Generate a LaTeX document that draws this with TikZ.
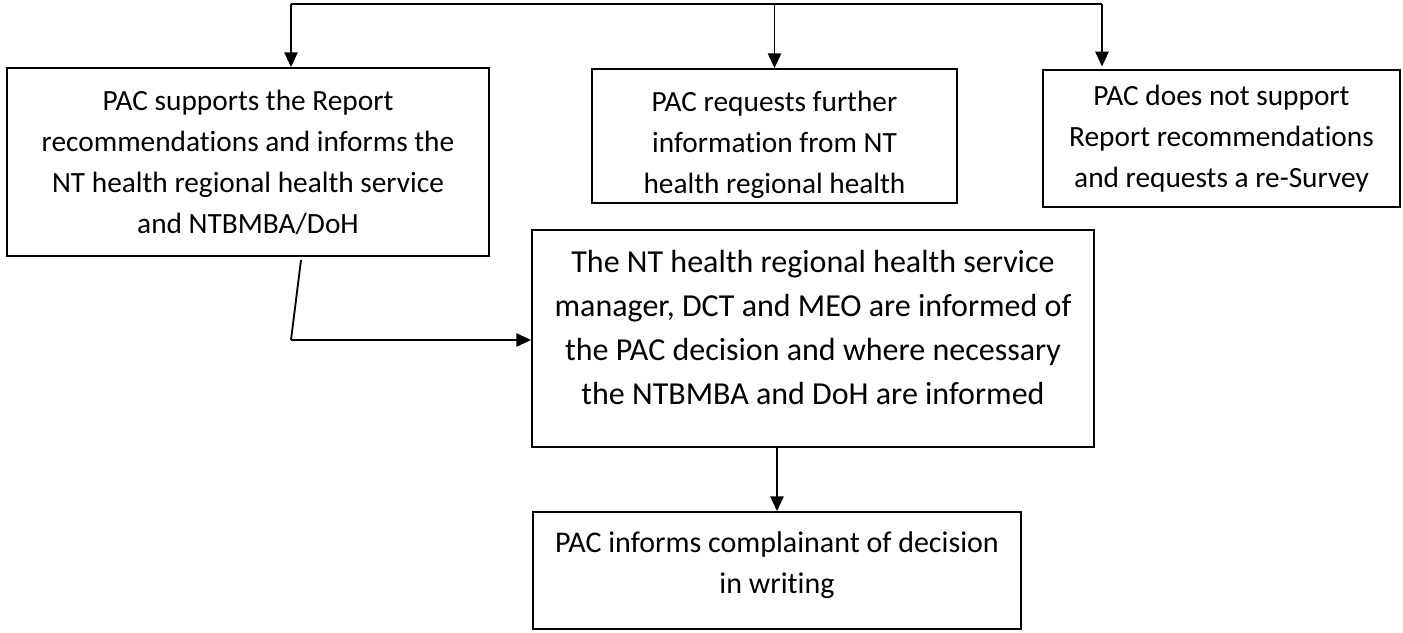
\documentclass[tikz,border=0pt]{standalone}
\usepackage{fontspec}
\setmainfont{Carlito}[Ligatures=CommonOff]
\usetikzlibrary{arrows.meta}
\tikzset{every node/.style={font=\fontsize{22}{30.75}\selectfont},line cap=round,line join=round}
\tikzset{box/.style={draw,line width=1.4pt,inner sep=0pt,align=center},
  arr/.style={line width=1pt,-{Triangle[length=11pt,width=10pt]}}}

\begin{document}
\begin{tikzpicture}[x=0.75pt,y=-0.75pt]
  \path[use as bounding box] (0,0) rectangle (1403,632);
  % decision boxes along the top
  \node[box,minimum width=361.5pt,minimum height=141pt] (supports) at (248,162)
    {PAC supports the Report\\recommendations and informs the\\NT health regional health service\\and NTBMBA/DoH};
  \node[box,minimum width=273.75pt,minimum height=100.5pt,
    path picture={\node[anchor=north,align=center] at ([yshift=-6pt]path picture bounding box.north)
      {PAC requests further\\information from NT\\health regional health};}] (requests) at (774.5,136) {};
  \node[box,minimum width=267.75pt,minimum height=102.75pt] (notsupport) at (1221.5,138.5)
    {PAC does not support\\Report recommendations\\and requests a re-Survey};
  % follow-up
  \node[box,minimum width=421.5pt,minimum height=162.75pt,font=\fontsize{24}{33}\selectfont] (informed) at (813,338.5)
    {The NT health regional health service\\manager, DCT and MEO are informed of\\the PAC decision and where necessary\\the NTBMBA and DoH are informed\\[-16.5pt]\mbox{}};
  \node[box,minimum width=366pt,minimum height=87.75pt,font=\fontsize{22.5}{30.75}\selectfont] (complainant) at (777,570.5)
    {PAC informs complainant of decision\\in writing\\[-18.75pt]\mbox{}};

  \coordinate (t1) at (291,4);
  \coordinate (t2) at (774.5,4);
  \coordinate (t3) at (1102,4);
  \coordinate (s1) at (301,260);
  \coordinate (kink) at (291,340);

  \draw[line width=1.4pt] (t1) -- (t3);
  \draw[arr] (t1) -- (t1 |- supports.north);
  \draw[arr] (t2) -- (requests.north);
  \draw[arr,shorten >=2pt] (t3) -- (t3 |- notsupport.north);
  \draw[line width=1.4pt] (s1) -- (kink);
  \draw[arr] (kink) -- (kink -| informed.west);
  \draw[arr] (complainant.north |- informed.south) -- (complainant.north);
\end{tikzpicture}
\end{document}
